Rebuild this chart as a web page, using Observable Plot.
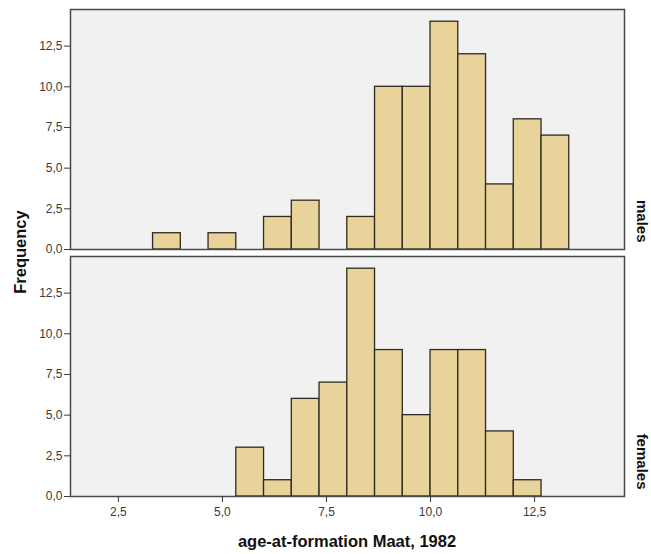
<!DOCTYPE html>
<html><head><meta charset="utf-8">
<script src="https://cdn.jsdelivr.net/npm/d3@7"></script>
<script src="https://cdn.jsdelivr.net/npm/@observablehq/plot@0.6"></script>
<style>
body{margin:0;background:#fff;font-family:"Liberation Sans",Arial,sans-serif}
</style>
</head><body><div id="chart"></div>
<script>
// Histogram bins (bin width 2/3)
const binEdges = [3.3333, 4, 4.6667, 5.3333, 6, 6.6667, 7.3333, 8, 8.6667, 9.3333, 10, 10.6667, 11.3333, 12, 12.6667, 13.3333];
const groups = ["males", "females"];
const malesCounts   = [1, 0, 1, 0, 2, 3, 0, 2, 10, 10, 14, 12, 4, 8, 7];
const femalesCounts = [0, 0, 0, 3, 1, 6, 7, 14, 9, 5, 9, 9, 4, 1, 0];
const xTicks = [2.5, 5, 7.5, 10, 12.5];
const yTicks = [0, 2.5, 5, 7.5, 10, 12.5];
const xLabel = "age-at-formation Maat, 1982";
const yLabel = "Frequency";

const rows = [];
groups.forEach((g, gi) => {
  const counts = gi === 0 ? malesCounts : femalesCounts;
  counts.forEach((c, i) => rows.push({sex: g, x1: binEdges[i], x2: binEdges[i + 1], count: c}));
});
const fmt = d => d.toFixed(1).replace(".", ",");

const W = 651, H = 554;
const plot = Plot.plot({
  width: W, height: H,
  marginLeft: 70, marginRight: 27, marginTop: 8, marginBottom: 58,
  style: {fontFamily: '"Liberation Sans", Arial, sans-serif', fontSize: "12px", color: "#3a3a3a", background: "#fff", overflow: "visible"},
  x: {domain: [1.35, 14.66]},
  y: {domain: [0, 14.75]},
  fy: {domain: groups, axis: null, paddingInner: 0.03, paddingOuter: 0},
  marks: [
    Plot.frame({fill: "#f1f1f1", stroke: "none"}),
    Plot.rect(rows, {fy: "sex", x1: "x1", x2: "x2", y1: 0, y2: "count", fill: "#e8d39b", stroke: "#2f2a1e", strokeWidth: 1.3}),
    Plot.frame({stroke: "#4a4a4a", strokeWidth: 1.5}),
    Plot.axisY({ticks: yTicks, tickFormat: fmt, tickSize: 6, tickPadding: 2, label: null, fontSize: 12}),
    Plot.axisX({ticks: xTicks, tickFormat: fmt, tickSize: 6, tickPadding: 5, label: null, fontSize: 12}),
    Plot.text(groups, {fy: d => d, text: d => d, frameAnchor: "bottom-right", rotate: 90, textAnchor: "end", dx: 12, dy: -7, fontWeight: "bold", fontSize: 15, fill: "#111"})
  ]
});
const svg = d3.select(plot);
svg.append("text")
  .attr("x", (70 + (W - 27)) / 2).attr("y", 543)
  .attr("text-anchor", "middle").attr("dominant-baseline", "middle")
  .attr("font-weight", "bold").attr("font-size", 16.5).attr("fill", "#111")
  .text(xLabel);
svg.append("text")
  .attr("transform", `translate(22,${(8 + (H - 58)) / 2}) rotate(-90)`)
  .attr("text-anchor", "middle").attr("dominant-baseline", "middle")
  .attr("font-weight", "bold").attr("font-size", 16.5).attr("fill", "#111")
  .text(yLabel);
document.getElementById("chart").appendChild(plot);
</script>
</body></html>
